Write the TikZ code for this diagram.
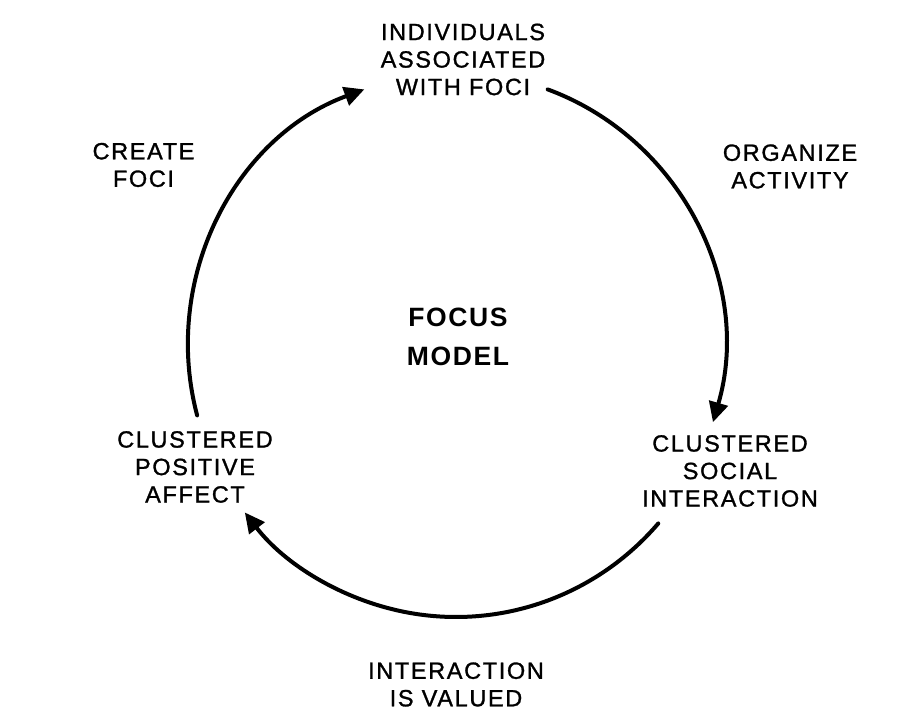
\documentclass[tikz,border=0pt]{standalone}
\usepackage{fontspec}
\setmainfont{Liberation Sans}[LetterSpace=7,FakeBold=1.2]
\newfontfamily\titlefont{Liberation Sans}[LetterSpace=6]
\usetikzlibrary{arrows.meta}
\begin{document}
\begin{tikzpicture}[x=1pt,y=1pt,
  lbl/.style={align=center, font=\fontsize{23.5}{27.5}\selectfont, inner sep=0pt},
  ttl/.style={align=center, font=\titlefont\bfseries\fontsize{26.5}{39}\selectfont, inner sep=0pt},
  cyc/.style={line width=4pt, line cap=round, -{Triangle[length=20pt,width=19pt]}}]
\useasboundingbox (0,0) rectangle (916,727);
% text nodes
\node[lbl] (ind) at (463,667.5) {INDIVIDUALS\\ASSOCIATED\\WITH FOCI};
\node[lbl] (soc) at (730,256) {CLUSTERED\\SOCIAL\\INTERACTION};
\node[lbl] (aff) at (195,260) {CLUSTERED\\POSITIVE\\AFFECT};
\node[lbl] (val) at (456,42.5) {INTERACTION\\IS VALUED};
\node[lbl] (cre) at (143.5,562) {CREATE\\FOCI};
\node[lbl] (org) at (790,560.5) {ORGANIZE\\ACTIVITY};
\node[ttl] (foc) at (458,390.5) {FOCUS\\MODEL};
% cycle
\coordinate (c) at (456,382);
\path (c) ++(195:268pt and 272pt) coordinate (a1s);
\path (c) ++(70:268pt and 272pt) coordinate (a2s);
\path (c) ++(-41:268pt and 272pt) coordinate (a3s);
\draw[cyc] (a1s) arc[start angle=195, end angle=110, x radius=268pt, y radius=272pt];
\draw[cyc] (a2s) arc[start angle=70, end angle=-16.5, x radius=268pt, y radius=272pt];
\draw[cyc] (a3s) arc[start angle=-41, end angle=-142, x radius=268pt, y radius=272pt];
\end{tikzpicture}
\end{document}
